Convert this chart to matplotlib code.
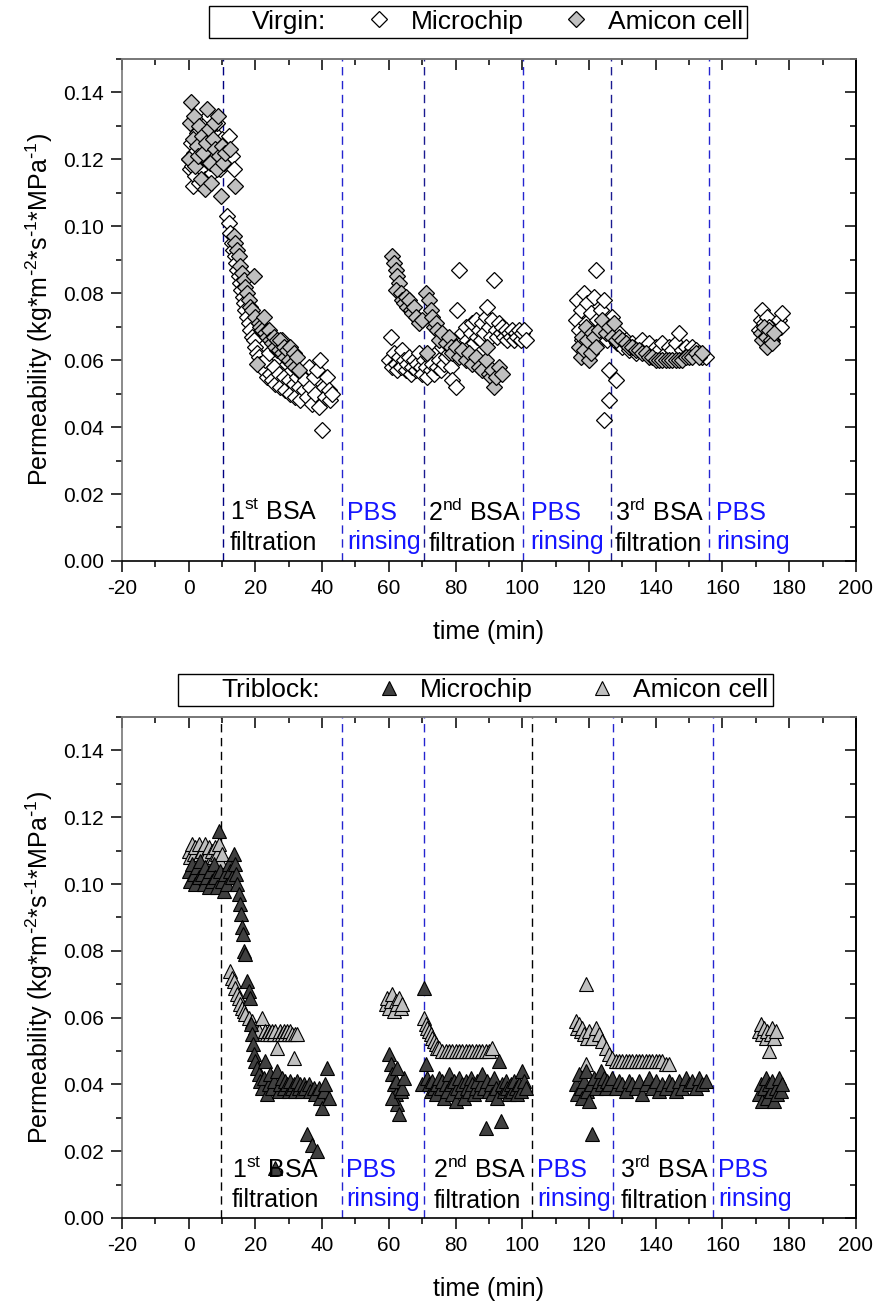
import matplotlib.pyplot as plt
import numpy as np
from matplotlib.lines import Line2D
from matplotlib.ticker import MultipleLocator, FormatStrFormatter

plt.rcParams['font.family'] = ['Liberation Sans', 'DejaVu Sans']
plt.rcParams['mathtext.default'] = 'regular'
plt.rcParams['axes.unicode_minus'] = False

# ---- data: (time in min, permeability) ----
virgin_chip = [
    (0.0, 0.120), (0.3, 0.117), (0.6, 0.125), (1.0, 0.118), (1.3, 0.112), (1.7, 0.122), (2.0, 0.115),
    (2.4, 0.128), (2.8, 0.119), (3.1, 0.113), (3.5, 0.124), (3.9, 0.117), (4.2, 0.130), (4.6, 0.121),
    (5.0, 0.114), (5.4, 0.126), (5.8, 0.133), (6.1, 0.119), (6.5, 0.125), (6.9, 0.116), (7.3, 0.122),
    (7.7, 0.128), (8.1, 0.119), (8.5, 0.131), (8.9, 0.124), (9.3, 0.117), (9.7, 0.121), (10.1, 0.126),
    (10.5, 0.119), (11.0, 0.123), (12.0, 0.127), (13.0, 0.121), (13.5, 0.117),
    (11.5, 0.103), (12.2, 0.101), (12.5, 0.098), (13.0, 0.095), (13.4, 0.093), (13.8, 0.091), (14.2, 0.089),
    (14.6, 0.087), (15.0, 0.085), (15.4, 0.083), (15.8, 0.081), (16.2, 0.079), (16.6, 0.077), (17.0, 0.075),
    (17.5, 0.073), (18.0, 0.071), (18.5, 0.069), (19.0, 0.067), (19.5, 0.066), (20.0, 0.064), (20.5, 0.062),
    (21.0, 0.061), (21.5, 0.059), (22.0, 0.058), (22.5, 0.057), (23.0, 0.060), (23.5, 0.055), (24.0, 0.062),
    (24.5, 0.056), (25.0, 0.054), (25.5, 0.058), (26.0, 0.053), (26.5, 0.063), (27.0, 0.056), (27.5, 0.052),
    (28.0, 0.066), (28.5, 0.055), (29.0, 0.051), (29.5, 0.059), (30.0, 0.054), (30.5, 0.050), (31.0, 0.057),
    (31.5, 0.053), (32.0, 0.049), (32.5, 0.055), (33.0, 0.052), (33.5, 0.048), (34.0, 0.056), (34.5, 0.051),
    (35.0, 0.054), (35.5, 0.049), (36.0, 0.058), (36.5, 0.052), (37.0, 0.047), (37.5, 0.055), (38.0, 0.050),
    (38.5, 0.057), (39.0, 0.046), (39.5, 0.060), (40.0, 0.039), (40.5, 0.052), (41.0, 0.049), (41.5, 0.055),
    (42.0, 0.051), (42.5, 0.048), (43.0, 0.050),
    (60.0, 0.060), (60.5, 0.067), (61.0, 0.058), (61.5, 0.062), (62.0, 0.059), (62.5, 0.057), (63.0, 0.061),
    (63.5, 0.058), (64.0, 0.063), (64.5, 0.060), (65.0, 0.057), (65.5, 0.059), (66.0, 0.061), (66.5, 0.056),
    (67.0, 0.058), (67.5, 0.060), (68.0, 0.057), (68.5, 0.059), (69.0, 0.062), (69.5, 0.058), (70.0, 0.056),
    (70.5, 0.060), (71.0, 0.058), (71.5, 0.055), (72.0, 0.061), (72.5, 0.057), (73.0, 0.059), (73.5, 0.056),
    (74.0, 0.062), (74.5, 0.058), (75.0, 0.060), (75.5, 0.057), (76.0, 0.064), (76.5, 0.059), (77.0, 0.061),
    (77.5, 0.066), (78.0, 0.062), (78.5, 0.058), (79.0, 0.054), (79.5, 0.063), (80.0, 0.052), (80.5, 0.075),
    (81.0, 0.087), (81.5, 0.065), (82.0, 0.068), (82.5, 0.063), (83.0, 0.070), (83.5, 0.066), (84.0, 0.064),
    (84.5, 0.068), (85.0, 0.071), (85.5, 0.065), (86.0, 0.072), (86.5, 0.067), (87.0, 0.069), (87.5, 0.066),
    (88.0, 0.071), (88.5, 0.068), (89.0, 0.073), (89.5, 0.076), (90.0, 0.070), (90.5, 0.067), (91.0, 0.072),
    (91.5, 0.084), (92.0, 0.069), (92.5, 0.067), (93.0, 0.071), (93.5, 0.068), (94.0, 0.070), (94.5, 0.067),
    (95.0, 0.069), (95.5, 0.066), (96.0, 0.068), (96.5, 0.067), (97.0, 0.069), (97.5, 0.066), (98.0, 0.068),
    (98.5, 0.067), (99.0, 0.069), (99.5, 0.066), (100.0, 0.068), (100.5, 0.069), (101.0, 0.066),
    (116.0, 0.072), (116.5, 0.078), (117.0, 0.069), (117.5, 0.075), (118.0, 0.066), (118.5, 0.080),
    (119.0, 0.071), (119.5, 0.077), (120.0, 0.068), (120.5, 0.074), (121.0, 0.065), (121.5, 0.079),
    (122.0, 0.087), (122.5, 0.072), (123.0, 0.069), (123.5, 0.075), (124.0, 0.067), (124.5, 0.078),
    (124.5, 0.042), (125.0, 0.070), (125.5, 0.066), (126.0, 0.048), (126.0, 0.057), (127.0, 0.073),
    (128.0, 0.054), (128.5, 0.065), (129.0, 0.068), (130.0, 0.064), (131.0, 0.066), (132.0, 0.063),
    (133.0, 0.065), (134.0, 0.062), (135.0, 0.064), (136.0, 0.066), (137.0, 0.063), (138.0, 0.065),
    (139.0, 0.062), (140.0, 0.064), (141.0, 0.063), (142.0, 0.065), (143.0, 0.062), (144.0, 0.064),
    (145.0, 0.063), (146.0, 0.065), (147.0, 0.068), (148.0, 0.063), (149.0, 0.064), (150.0, 0.062),
    (151.0, 0.064), (152.0, 0.063), (153.0, 0.062), (154.0, 0.061), (155.0, 0.061),
    (171.0, 0.069), (171.5, 0.072), (172.0, 0.075), (172.5, 0.071), (173.0, 0.068), (173.5, 0.073),
    (174.0, 0.070), (175.0, 0.066), (176.0, 0.069), (177.0, 0.072), (177.5, 0.070), (178.0, 0.074),
]

virgin_amicon = [
    (0.0, 0.120), (0.4, 0.131), (0.8, 0.137), (1.2, 0.126), (1.6, 0.133), (2.0, 0.118), (2.4, 0.124),
    (2.8, 0.121), (3.2, 0.130), (3.6, 0.114), (4.0, 0.127), (4.4, 0.122), (4.8, 0.111), (5.2, 0.125),
    (5.6, 0.135), (6.0, 0.129), (6.4, 0.119), (6.8, 0.113), (7.2, 0.126), (7.6, 0.131), (8.0, 0.123),
    (8.4, 0.117), (8.8, 0.133), (9.2, 0.121), (9.6, 0.109), (10.0, 0.124), (10.4, 0.119), (11.0, 0.122),
    (12.5, 0.123), (14.0, 0.112),
    (13.5, 0.097), (14.0, 0.095), (14.5, 0.093), (15.0, 0.091), (15.5, 0.088), (16.0, 0.086), (16.5, 0.084),
    (17.0, 0.082), (17.5, 0.080), (18.0, 0.078), (18.5, 0.076), (19.0, 0.075), (19.7, 0.085), (20.0, 0.073),
    (20.5, 0.059), (21.0, 0.071), (21.5, 0.070), (22.0, 0.069), (22.5, 0.073), (23.0, 0.068), (23.5, 0.067),
    (24.0, 0.069), (24.5, 0.066), (25.0, 0.065), (25.5, 0.067), (26.0, 0.064), (26.5, 0.066), (27.0, 0.063),
    (27.5, 0.066), (28.0, 0.062), (28.5, 0.064), (29.0, 0.061), (29.5, 0.063), (30.0, 0.060), (30.5, 0.064),
    (31.0, 0.059), (31.5, 0.062), (32.0, 0.058), (32.5, 0.061), (33.0, 0.057),
    (61.0, 0.091), (61.5, 0.089), (62.0, 0.087), (62.5, 0.085), (63.0, 0.083), (62.0, 0.081), (63.5, 0.080),
    (64.0, 0.078), (64.5, 0.077), (65.0, 0.079), (65.5, 0.076), (66.0, 0.078), (66.5, 0.075), (67.0, 0.074),
    (67.5, 0.076), (68.0, 0.073), (69.0, 0.071), (70.0, 0.072), (71.0, 0.080), (71.5, 0.062), (72.0, 0.078),
    (72.5, 0.075), (73.0, 0.073), (73.5, 0.070), (74.0, 0.071), (74.5, 0.069), (75.0, 0.066), (76.0, 0.068),
    (77.0, 0.065), (78.0, 0.067), (78.5, 0.064), (79.0, 0.062), (80.0, 0.064), (81.0, 0.061), (82.0, 0.063),
    (83.0, 0.060), (84.0, 0.062), (85.0, 0.059), (86.0, 0.061), (87.0, 0.058), (88.0, 0.057), (89.0, 0.060),
    (89.5, 0.064), (90.0, 0.056), (90.5, 0.055), (91.0, 0.057), (91.5, 0.052), (92.0, 0.055), (93.0, 0.058),
    (94.0, 0.056),
    (117.0, 0.064), (117.5, 0.061), (118.0, 0.067), (118.5, 0.063), (119.0, 0.070), (119.5, 0.066),
    (120.0, 0.060), (120.5, 0.062), (121.0, 0.068), (121.5, 0.067), (122.0, 0.064), (123.0, 0.069),
    (124.0, 0.072), (125.0, 0.068), (126.0, 0.070), (127.0, 0.067), (127.5, 0.071), (128.0, 0.066),
    (129.0, 0.067), (130.0, 0.066), (131.0, 0.065), (132.0, 0.064), (133.0, 0.064), (134.0, 0.063),
    (135.0, 0.063), (136.0, 0.062), (137.0, 0.062), (138.0, 0.061), (139.0, 0.061), (140.0, 0.060),
    (141.0, 0.060), (142.0, 0.060), (143.0, 0.060), (144.0, 0.060), (145.0, 0.060), (146.0, 0.060),
    (147.0, 0.060), (148.0, 0.060), (149.0, 0.061), (150.0, 0.061), (151.0, 0.061), (152.0, 0.062),
    (153.0, 0.061), (154.0, 0.062),
    (171.5, 0.068), (172.0, 0.066), (172.5, 0.070), (173.0, 0.067), (173.5, 0.064), (174.0, 0.069),
    (174.5, 0.066), (175.0, 0.065), (175.5, 0.068),
]

triblock_chip = [
    (0.0, 0.104), (0.5, 0.101), (1.0, 0.106), (1.5, 0.103), (2.0, 0.100), (2.5, 0.105), (3.0, 0.102),
    (3.5, 0.107), (4.0, 0.103), (4.5, 0.100), (5.0, 0.105), (5.5, 0.102), (6.0, 0.099), (6.5, 0.104),
    (7.0, 0.101), (7.5, 0.106), (8.0, 0.102), (8.5, 0.099), (9.0, 0.116), (9.5, 0.104), (10.0, 0.101),
    (10.5, 0.098), (11.0, 0.103), (11.5, 0.100), (12.0, 0.106), (12.5, 0.104), (13.0, 0.102), (13.6, 0.109),
    (14.0, 0.106), (14.3, 0.103), (14.6, 0.100), (15.0, 0.097), (15.3, 0.094), (15.6, 0.091), (16.0, 0.087),
    (16.3, 0.085), (16.6, 0.080), (16.8, 0.079),
    (17.5, 0.071), (18.0, 0.068), (18.5, 0.066), (18.7, 0.058), (19.0, 0.055), (19.2, 0.052), (19.5, 0.049),
    (20.0, 0.047), (20.5, 0.045), (21.0, 0.043), (21.5, 0.041), (22.0, 0.039), (22.5, 0.042), (23.0, 0.047),
    (23.5, 0.037), (24.0, 0.040), (24.5, 0.043), (25.0, 0.039), (25.5, 0.041), (26.0, 0.015), (26.5, 0.044),
    (27.0, 0.038), (27.5, 0.040), (28.0, 0.042), (28.5, 0.039), (29.0, 0.041), (29.5, 0.040), (30.0, 0.038),
    (30.5, 0.041), (31.0, 0.039), (31.5, 0.040), (32.0, 0.038), (32.5, 0.041), (33.0, 0.039), (33.5, 0.040),
    (34.0, 0.038), (34.5, 0.040), (35.0, 0.039), (35.5, 0.025), (36.0, 0.040), (36.5, 0.038), (37.0, 0.022),
    (37.5, 0.039), (38.0, 0.037), (38.5, 0.020), (39.0, 0.039), (39.5, 0.036), (40.0, 0.033), (40.5, 0.038),
    (41.0, 0.040), (41.5, 0.045), (42.0, 0.036),
    (60.0, 0.049), (60.5, 0.046), (61.0, 0.043), (61.5, 0.040), (62.0, 0.037), (62.5, 0.034), (63.0, 0.031),
    (61.0, 0.036), (62.0, 0.041), (63.5, 0.038), (64.0, 0.039), (64.5, 0.042), (62.5, 0.045),
    (70.5, 0.069), (70.0, 0.040), (71.0, 0.046), (71.5, 0.042), (72.0, 0.040), (72.5, 0.038), (73.0, 0.041),
    (73.5, 0.039), (74.0, 0.037), (74.5, 0.040), (75.0, 0.042), (75.5, 0.039), (76.0, 0.041), (76.5, 0.036),
    (77.0, 0.040), (77.5, 0.038), (78.0, 0.043), (78.5, 0.040), (79.0, 0.037), (79.5, 0.041), (80.0, 0.035),
    (80.5, 0.039), (81.0, 0.042), (81.5, 0.038), (82.0, 0.040), (82.5, 0.036), (83.0, 0.041), (83.5, 0.039),
    (84.0, 0.038), (84.5, 0.042), (85.0, 0.040), (85.5, 0.037), (86.0, 0.039), (86.5, 0.041), (87.0, 0.038),
    (87.5, 0.040), (88.0, 0.043), (88.5, 0.039), (89.0, 0.027), (89.5, 0.041), (90.0, 0.038), (90.5, 0.040),
    (91.0, 0.037), (91.5, 0.042), (92.0, 0.039), (92.5, 0.036), (93.0, 0.047), (93.5, 0.029), (94.0, 0.040),
    (94.5, 0.038), (95.0, 0.041), (95.5, 0.039), (96.0, 0.037), (96.5, 0.040), (97.0, 0.038), (97.5, 0.041),
    (98.0, 0.039), (98.5, 0.037), (99.0, 0.040), (99.5, 0.038), (100.0, 0.044), (100.5, 0.041), (101.0, 0.039),
    (116.0, 0.040), (116.5, 0.037), (117.0, 0.043), (117.5, 0.039), (118.0, 0.036), (118.5, 0.041),
    (119.0, 0.044), (119.5, 0.038), (120.0, 0.035), (120.5, 0.040), (121.0, 0.025), (121.5, 0.042),
    (122.0, 0.039), (123.0, 0.041), (123.5, 0.044), (124.0, 0.040), (124.5, 0.042), (125.0, 0.039),
    (125.5, 0.041), (126.0, 0.040), (127.0, 0.042), (128.0, 0.039), (129.0, 0.041), (130.0, 0.040),
    (131.0, 0.038), (132.0, 0.041), (133.0, 0.040), (134.0, 0.039), (135.0, 0.041), (136.0, 0.037),
    (137.0, 0.040), (138.0, 0.042), (139.0, 0.039), (140.0, 0.041), (141.0, 0.038), (142.0, 0.040),
    (143.0, 0.039), (144.0, 0.041), (145.0, 0.040), (146.0, 0.038), (147.0, 0.041), (148.0, 0.039),
    (149.0, 0.042), (150.0, 0.040), (151.0, 0.041), (152.0, 0.039), (153.0, 0.042), (154.0, 0.040),
    (155.0, 0.041),
    (171.0, 0.037), (171.5, 0.040), (172.0, 0.035), (172.5, 0.039), (173.0, 0.042), (173.5, 0.036),
    (174.0, 0.040), (174.5, 0.038), (175.0, 0.041), (175.5, 0.035), (176.0, 0.039), (176.5, 0.037),
    (177.0, 0.042), (177.5, 0.038), (178.0, 0.040),
]

triblock_amicon = [
    (0.0, 0.110), (0.5, 0.108), (1.0, 0.112), (1.5, 0.109), (2.0, 0.111), (2.5, 0.107), (3.0, 0.112),
    (3.5, 0.109), (4.0, 0.110), (4.5, 0.108), (5.0, 0.112), (5.5, 0.109), (6.0, 0.111), (6.5, 0.107),
    (7.0, 0.110), (7.5, 0.108), (8.0, 0.111), (8.5, 0.109), (9.0, 0.112), (9.5, 0.107), (10.0, 0.109),
    (12.5, 0.074), (13.0, 0.072), (13.5, 0.071), (14.0, 0.069), (14.5, 0.067), (15.0, 0.066), (15.5, 0.064),
    (16.0, 0.063), (16.5, 0.062), (17.0, 0.061), (18.0, 0.060), (19.0, 0.059), (20.0, 0.057), (21.0, 0.056),
    (22.0, 0.060), (22.5, 0.055), (23.0, 0.056), (23.5, 0.055), (24.0, 0.056), (24.5, 0.055), (25.0, 0.056),
    (25.5, 0.055), (26.0, 0.056), (26.5, 0.051), (27.0, 0.055), (27.5, 0.056), (28.0, 0.055), (28.5, 0.056),
    (29.0, 0.055), (29.5, 0.056), (30.0, 0.055), (30.5, 0.056), (31.0, 0.055), (31.5, 0.048), (32.0, 0.055),
    (32.5, 0.055),
    (59.0, 0.064), (59.5, 0.066), (60.0, 0.063), (60.5, 0.065), (61.0, 0.067), (61.5, 0.062), (62.0, 0.065),
    (62.5, 0.064), (63.0, 0.066), (63.5, 0.063), (64.0, 0.064),
    (70.5, 0.060), (71.0, 0.058), (71.5, 0.057), (72.0, 0.056), (72.5, 0.055), (73.0, 0.054), (73.5, 0.053),
    (74.0, 0.052), (74.5, 0.051), (75.0, 0.051), (76.0, 0.050), (77.0, 0.050), (78.0, 0.050), (79.0, 0.050),
    (80.0, 0.050), (81.0, 0.050), (82.0, 0.050), (83.0, 0.050), (84.0, 0.050), (85.0, 0.050), (86.0, 0.050),
    (87.0, 0.050), (88.0, 0.050), (89.0, 0.050), (90.0, 0.050), (91.0, 0.051),
    (116.0, 0.059), (116.5, 0.057), (117.0, 0.058), (117.5, 0.056), (118.0, 0.057), (118.5, 0.055),
    (119.0, 0.070), (119.5, 0.054), (119.0, 0.046), (120.0, 0.056), (121.0, 0.054), (122.0, 0.057),
    (123.0, 0.055), (124.0, 0.053), (125.0, 0.051), (126.0, 0.049), (127.0, 0.048), (128.0, 0.047),
    (129.0, 0.047), (130.0, 0.047), (131.0, 0.047), (132.0, 0.047), (133.0, 0.047), (134.0, 0.047),
    (135.0, 0.047), (136.0, 0.047), (137.0, 0.047), (138.0, 0.047), (139.0, 0.047), (140.0, 0.047),
    (141.0, 0.047), (142.0, 0.047), (143.0, 0.046), (144.0, 0.046),
    (171.0, 0.056), (171.5, 0.058), (172.0, 0.055), (172.5, 0.057), (173.0, 0.054), (173.5, 0.056),
    (174.0, 0.050), (174.5, 0.055), (175.0, 0.057), (175.5, 0.054), (176.0, 0.056),
]

# dashed step boundaries (min) and their colours
virgin_lines = [10.4, 46.1, 70.4, 100.3, 126.5, 155.9]
virgin_line_colors = ['#000080', '#2424d0', '#1a1a90', '#2424d0', '#1a1a90', '#2424d0']
triblock_lines = [9.8, 46.1, 70.4, 103.0, 127.1, 157.1]
triblock_line_colors = ['#000000', '#2424d0', '#2424d0', '#000000', '#2424d0', '#2424d0']

step_labels = ['1$^{st}$ BSA\nfiltration', 'PBS\nrinsing', '2$^{nd}$ BSA\nfiltration',
               'PBS\nrinsing', '3$^{rd}$ BSA\nfiltration', 'PBS\nrinsing']
step_colors = ['black', '#1515ff', 'black', '#1515ff', 'black', '#1515ff']
virgin_label_x = [12.4, 47.5, 71.8, 102.5, 127.8, 158.2]
triblock_label_x = [13.0, 47.2, 73.3, 104.5, 129.4, 158.8]


def style_axes(ax):
    ax.set_xlim(-20, 200)
    ax.set_ylim(0, 0.15)
    ax.xaxis.set_major_locator(MultipleLocator(20))
    ax.xaxis.set_minor_locator(MultipleLocator(10))
    ax.yaxis.set_major_locator(MultipleLocator(0.02))
    ax.yaxis.set_minor_locator(MultipleLocator(0.01))
    ax.yaxis.set_major_formatter(FormatStrFormatter('%.2f'))
    ax.tick_params(which='major', direction='out', length=8, width=1.1, labelsize=15, pad=5)
    ax.tick_params(which='minor', direction='out', length=4, width=1.1)
    for side in ['left', 'top']:
        ax.spines[side].set_color('#777777')
    for side in ax.spines:
        ax.spines[side].set_linewidth(1.2)
    top = ax.secondary_xaxis('top')
    top.xaxis.set_major_locator(MultipleLocator(20))
    top.xaxis.set_minor_locator(MultipleLocator(10))
    top.tick_params(which='major', direction='in', length=8, width=1.1, labeltop=False)
    top.tick_params(which='minor', direction='in', length=4, width=1.1)
    top.spines['top'].set_color('#777777')
    top.spines['top'].set_linewidth(1.2)
    right = ax.secondary_yaxis('right')
    right.yaxis.set_major_locator(MultipleLocator(0.02))
    right.yaxis.set_minor_locator(MultipleLocator(0.01))
    right.tick_params(which='major', direction='in', length=8, width=1.1, labelright=False)
    right.tick_params(which='minor', direction='in', length=4, width=1.1)
    right.spines['right'].set_linewidth(1.2)
    ax.set_xlabel('time (min)', fontsize=18, labelpad=16)
    ax.set_ylabel(r'Permeability (kg*m$^{\text{-}2}$*s$^{\text{-}1}$*MPa$^{\text{-}1}$)',
                  fontsize=18, labelpad=6)


def draw_steps(ax, lines, line_colors, label_x):
    for x, c in zip(lines, line_colors):
        ax.axvline(x, color=c, linestyle=(0, (6, 4)), linewidth=1.0, zorder=1)
    for x, txt, c in zip(label_x, step_labels, step_colors):
        ax.text(x, 0.0100, txt, color=c, fontsize=18, ha='left', va='center',
                linespacing=1.3, zorder=5)


fig = plt.figure(figsize=(8.8, 13.07), dpi=100)
ax1 = fig.add_axes([0.1386, 0.5708, 0.834, 0.3841])
ax2 = fig.add_axes([0.1386, 0.0681, 0.834, 0.3833])

# ---- top panel: virgin membrane ----
vc = np.array(virgin_chip)
va = np.array(virgin_amicon)
ax1.plot(vc[:, 0], vc[:, 1], 'D', ms=8, mfc='white', mec='black', mew=0.9, zorder=3)
ax1.plot(va[:, 0], va[:, 1], 'D', ms=8, mfc='#c0c0c0', mec='black', mew=0.9, zorder=3)
draw_steps(ax1, virgin_lines, virgin_line_colors, virgin_label_x)
style_axes(ax1)

h_top = [Line2D([], [], linestyle='none'),
         Line2D([], [], marker='D', ms=8, linestyle='none', mfc='white', mec='black', mew=0.9),
         Line2D([], [], marker='D', ms=8, linestyle='none', mfc='#c0c0c0', mec='black', mew=0.9)]
leg1 = fig.legend(h_top, ['Virgin:', 'Microchip', 'Amicon cell'], ncol=3, loc='center',
                  bbox_to_anchor=(0.543, 0.9835), fontsize=19, frameon=True, fancybox=False,
                  edgecolor='black', framealpha=1, handlelength=0.6, handletextpad=0.9,
                  columnspacing=1.7, borderpad=0.15, borderaxespad=0)
leg1.get_frame().set_linewidth(1.0)

# ---- bottom panel: triblock coated membrane ----
tc = np.array(triblock_chip)
ta = np.array(triblock_amicon)
ax2.plot(ta[:, 0], ta[:, 1], '^', ms=10.5, mfc='#c0c0c0', mec='black', mew=0.8, zorder=3)
ax2.plot(tc[:, 0], tc[:, 1], '^', ms=10.5, mfc='#404040', mec='black', mew=0.8, zorder=3)
draw_steps(ax2, triblock_lines, triblock_line_colors, triblock_label_x)
style_axes(ax2)

h_bot = [Line2D([], [], linestyle='none'),
         Line2D([], [], marker='^', ms=10.5, linestyle='none', mfc='#404040', mec='black', mew=0.8),
         Line2D([], [], marker='^', ms=10.5, linestyle='none', mfc='#c0c0c0', mec='black', mew=0.8)]
leg2 = fig.legend(h_bot, ['Triblock:', 'Microchip', 'Amicon cell'], ncol=3, loc='center',
                  bbox_to_anchor=(0.540, 0.4721), fontsize=19, frameon=True, fancybox=False,
                  edgecolor='black', framealpha=1, handlelength=0.6, handletextpad=0.9,
                  columnspacing=2.3, borderpad=0.15, borderaxespad=0)
leg2.get_frame().set_linewidth(1.0)

fig.savefig('out.png', dpi=100)
